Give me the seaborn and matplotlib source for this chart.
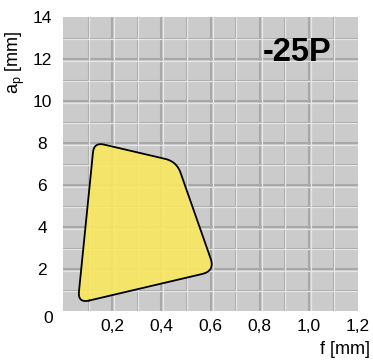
import numpy as np
import pandas as pd
import matplotlib
matplotlib.use("Agg")
import matplotlib.pyplot as plt
from matplotlib.transforms import ScaledTranslation
import seaborn as sns

# operating range of the -25P chip breaker (corner points, feed f / depth a_p)
f_pts = [0.060, 0.126, 0.462, 0.618]
ap_pts = [0.375, 8.04, 7.12, 1.91]
corner_r = [0.04, 0.035, 0.04, 0.045]   # rounding, axes fraction

x_ticks = [0.2, 0.4, 0.6, 0.8, 1.0, 1.2]
x_labels = ["0,2", "0,4", "0,6", "0,8", "1,0", "1,2"]
y_ticks = [2, 4, 6, 8, 10, 12, 14]
y_labels = ["2", "4", "6", "8", "10", "12", "14"]
XMAX, YMAX = 1.2, 14

sns.set_theme(style="white")
plt.rcParams["font.family"] = ["Liberation Sans", "DejaVu Sans"]
plt.rcParams["text.color"] = "black"
plt.rcParams["mathtext.fontset"] = "custom"
plt.rcParams["mathtext.rm"] = "Liberation Sans"


def rounded_outline(xs, ys, radii, n=12):
    # work in axes fraction so the rounding looks even on both axes
    P = np.column_stack([np.array(xs) / XMAX, np.array(ys) / YMAX])
    out = []
    k = len(P)
    for i in range(k):
        v, p, q = P[i], P[i - 1], P[(i + 1) % k]
        a = v + radii[i] * (p - v) / np.linalg.norm(p - v)
        b = v + radii[i] * (q - v) / np.linalg.norm(q - v)
        t = np.linspace(0, 1, n)[:, None]
        out.append((1 - t) ** 2 * a + 2 * (1 - t) * t * v + t ** 2 * b)
    pts = np.vstack(out + [out[0][:1]])
    return pd.DataFrame({"f": pts[:, 0] * XMAX, "ap": pts[:, 1] * YMAX})


fig = plt.figure(figsize=(3.73, 3.63), dpi=100)
ax = fig.add_axes([0.169, 0.143, 0.791, 0.810])
ax.set_facecolor("#cbcbcb")
ax.set_xlim(0, XMAX)
ax.set_ylim(0, YMAX)

# embossed grid: darker line with a light line 1-2 px beside it
px = 1 / 100
for v in np.arange(0.1, 1.15, 0.1):
    major = abs(v / 0.2 - round(v / 0.2)) < 1e-6
    shift = ScaledTranslation((2 if major else 1) * px, 0, fig.dpi_scale_trans)
    ax.plot([v, v], [0, 1], transform=ax.get_xaxis_transform(), color="#a8a8a8",
            lw=1.5 if major else 0.8, zorder=0.5)
    ax.plot([v, v], [0, 1], transform=ax.get_xaxis_transform() + shift,
            color="#e6e6e6", lw=0.9, zorder=0.6)
for v in range(1, 14):
    major = v % 2 == 0
    shift = ScaledTranslation(0, -(2 if major else 1) * px, fig.dpi_scale_trans)
    ax.plot([0, 1], [v, v], transform=ax.get_yaxis_transform(), color="#a8a8a8",
            lw=1.5 if major else 0.8, zorder=0.5)
    ax.plot([0, 1], [v, v], transform=ax.get_yaxis_transform() + shift,
            color="#e6e6e6", lw=0.9, zorder=0.6)

outline = rounded_outline(f_pts, ap_pts, corner_r)
ax.fill(outline["f"], outline["ap"], color="#f9e860", alpha=0.9, zorder=2, lw=0)
sns.lineplot(data=outline, x="f", y="ap", sort=False, estimator=None,
             color="black", lw=1.3, ax=ax, zorder=3)

ax.text(0.95, 12.3, "-25P", fontsize=23.5, fontweight="bold", color="black",
        ha="center", va="center")

for s in ax.spines.values():
    s.set_visible(False)
ax.set_xticks(x_ticks, x_labels)
ax.set_yticks(y_ticks, y_labels)
ax.set_xlim(0, XMAX)
ax.set_ylim(0, YMAX)
ax.tick_params(length=0, labelsize=12.5, colors="black")
ax.tick_params(axis="x", pad=6)
ax.tick_params(axis="y", pad=15)
for lab in ax.get_yticklabels():
    lab.set_horizontalalignment("center")
ax.annotate("0", xy=(0, 0), xycoords=("axes fraction", "data"), xytext=(-15, -7),
            textcoords="offset pixels", ha="center", va="center", fontsize=12.5)
ax.set_xlabel("")
ax.set_ylabel("")

fig.text(15 / 373, 1 - 62 / 363, "a$_\\mathrm{p}$ [mm]", rotation=90, ha="center", va="center", fontsize=13)
fig.text(370 / 373, 1 - 350 / 363, "f [mm]", ha="right", va="center", fontsize=13)

fig.savefig("out.png", dpi=100)
